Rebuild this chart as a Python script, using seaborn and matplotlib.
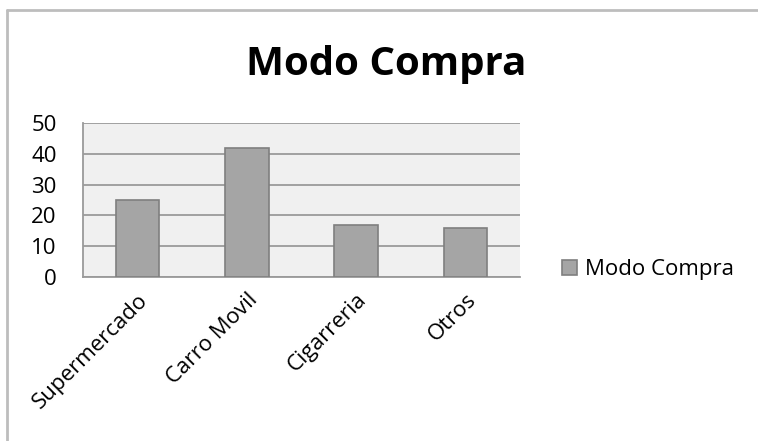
import matplotlib
matplotlib.use("Agg")
import matplotlib.pyplot as plt
import seaborn as sns
from matplotlib.lines import Line2D

# data
categorias = ["Supermercado", "Carro Movil", "Cigarreria", "Otros"]
valores = [25, 42, 17, 16]
serie = "Modo Compra"
y_ticks = [0, 10, 20, 30, 40, 50]

sns.set_style("white")
plt.rcParams['font.family'] = ['Open Sans', 'DejaVu Sans']
plt.rcParams['text.color'] = 'black'
plt.rcParams['xtick.labelcolor'] = 'black'
plt.rcParams['ytick.labelcolor'] = 'black'

fig = plt.figure(figsize=(7.58, 4.41), dpi=100)
ax = fig.add_axes([0.1095, 0.372, 0.5765, 0.349])
ax.set_facecolor("#f0f0f0")

sns.barplot(x=categorias, y=valores, color="#a5a5a5", width=0.4,
            edgecolor="#7f7f7f", linewidth=1.2, label=serie, ax=ax,
            saturation=1, zorder=3)

ax.set_ylim(0, 50)
ax.set_xlim(-0.5, len(categorias) - 0.5)
ax.set_yticks(y_ticks)
ax.set_yticklabels([str(t) for t in y_ticks], fontsize=16)
ax.yaxis.grid(True, color="#9a9a9a", linewidth=1.3, zorder=0)
ax.set_axisbelow(True)

# category ticks sit between bars, like Excel
ax.set_xticks(range(len(categorias)))
ax.set_xticklabels(categorias, rotation=45, ha="right", rotation_mode="anchor",
                   fontsize=16)
ax.tick_params(axis="x", length=0, pad=9)
ax.set_xticks([i - 0.5 for i in range(len(categorias) + 1)], minor=True)
ax.tick_params(axis="x", which="minor", length=7, color="#9a9a9a", width=1.3)
ax.tick_params(axis="y", length=9, color="#9a9a9a", width=1.3, pad=10)

for s in ["top", "right"]:
    ax.spines[s].set_visible(False)
for s in ["left", "bottom"]:
    ax.spines[s].set_color("#9a9a9a")
    ax.spines[s].set_linewidth(1.3)

ax.set_xlabel("")
ax.set_ylabel("")

fig.text(0.509, 0.853, serie, ha="center", va="center", fontsize=29,
         fontweight="bold", color="black")

ax.legend(loc="center left", bbox_to_anchor=(0.741, 0.388),
          bbox_transform=fig.transFigure, frameon=False, fontsize=16,
          handlelength=0.7, handleheight=0.7, handletextpad=0.35,
          borderpad=0, borderaxespad=0)

# outer chart border (only top and left visible)
fig.add_artist(Line2D([0.009, 1.0], [0.977, 0.977], transform=fig.transFigure,
                      color="#bdbdbd", linewidth=2))
fig.add_artist(Line2D([0.009, 0.009], [0.0, 0.977], transform=fig.transFigure,
                      color="#bdbdbd", linewidth=2))

fig.savefig("out.png", dpi=100)
